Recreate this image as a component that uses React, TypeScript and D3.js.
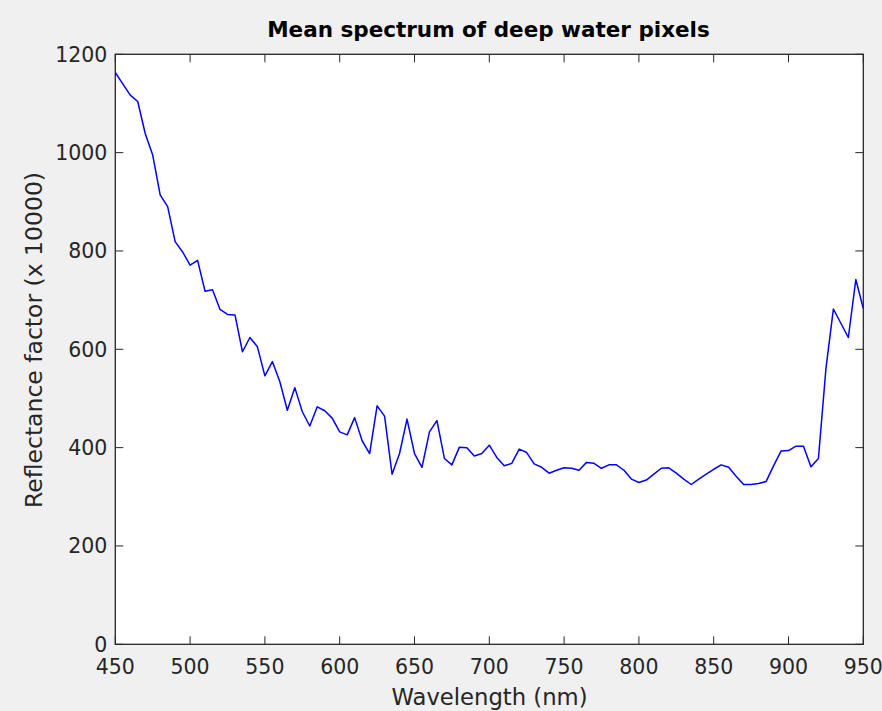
import React from "react";
import * as d3 from "d3";

const wavelengths: number[] = d3.range(450, 951, 5);
const reflectance: number[] = [
  1163, 1140, 1117, 1104, 1039, 995, 914, 890, 819, 798,
  771, 781, 718, 721, 681, 671, 670, 595, 624, 605,
  546, 575, 534, 476, 522, 473, 444, 483, 475, 460,
  432, 426, 461, 414, 388, 485, 464, 346, 388, 458,
  388, 360, 432, 455, 378, 365, 401, 400, 383, 388,
  405, 380, 363, 368, 397, 390, 367, 360, 348, 354,
  359, 358, 354, 370, 368, 358, 365, 365, 354, 336,
  329, 334, 346, 358, 359, 348, 336, 325, 336, 346,
  356, 365, 360, 342, 325, 325, 327, 331, 363, 393,
  394, 403, 403, 361, 378, 560, 682, 653, 624, 742,
  683,
];
const xTicks: number[] = [450, 500, 550, 600, 650, 700, 750, 800, 850, 900, 950];
const yTicks: number[] = [0, 200, 400, 600, 800, 1000, 1200];

const W = 882;
const H = 711;
const L = 115.3;
const R = 863.3;
const T = 54.3;
const B = 644.3;
const TICK = 8;
const FONT = "'DejaVu Sans', 'Liberation Sans', Arial, sans-serif";
const AXC = "#262626";

export default function App() {
  const x = d3.scaleLinear().domain([450, 950]).range([L, R]);
  const y = d3.scaleLinear().domain([0, 1200]).range([B, T]);
  const line = d3
    .line<number>()
    .x((_, i) => x(wavelengths[i]))
    .y((d) => y(d));
  const path = line(reflectance) || "";

  return (
    <svg
      width={W}
      height={H}
      style={{ position: "absolute", left: 0, top: 0, display: "block" }}
      fontFamily={FONT}
    >
      <rect x={0} y={0} width={W} height={H} fill="#f0f0f0" />
      <rect x={L} y={T} width={R - L} height={B - T} fill="#ffffff" />
      <path d={path} fill="none" stroke="#0000ff" strokeWidth={1.5} strokeLinejoin="round" />
      {xTicks.map((t) => (
        <g key={"x" + t}>
          <line x1={x(t)} x2={x(t)} y1={B} y2={B - TICK} stroke={AXC} strokeWidth={1} />
          <line x1={x(t)} x2={x(t)} y1={T} y2={T + TICK} stroke={AXC} strokeWidth={1} />
          <text x={x(t)} y={B + 30} textAnchor="middle" fontSize={20.5} fill={AXC}>
            {t}
          </text>
        </g>
      ))}
      {yTicks.map((t) => (
        <g key={"y" + t}>
          <line x1={L} x2={L + TICK} y1={y(t)} y2={y(t)} stroke={AXC} strokeWidth={1} />
          <line x1={R} x2={R - TICK} y1={y(t)} y2={y(t)} stroke={AXC} strokeWidth={1} />
          <text x={L - 8} y={y(t)} dy="0.36em" textAnchor="end" fontSize={20.5} fill={AXC}>
            {t}
          </text>
        </g>
      ))}
      <rect x={L} y={T} width={R - L} height={B - T} fill="none" stroke={AXC} strokeWidth={1.3} />
      <text x={488.5} y={36.7} textAnchor="middle" fontSize={21.5} fontWeight="bold" fill="#000">
        Mean spectrum of deep water pixels
      </text>
      <text x={489.5} y={705} textAnchor="middle" fontSize={22.7} fill={AXC}>
        Wavelength (nm)
      </text>
      <text
        transform={`translate(42, 340) rotate(-90)`}
        textAnchor="middle"
        fontSize={23.5}
        fill={AXC}
      >
        Reflectance factor (x 10000)
      </text>
    </svg>
  );
}
